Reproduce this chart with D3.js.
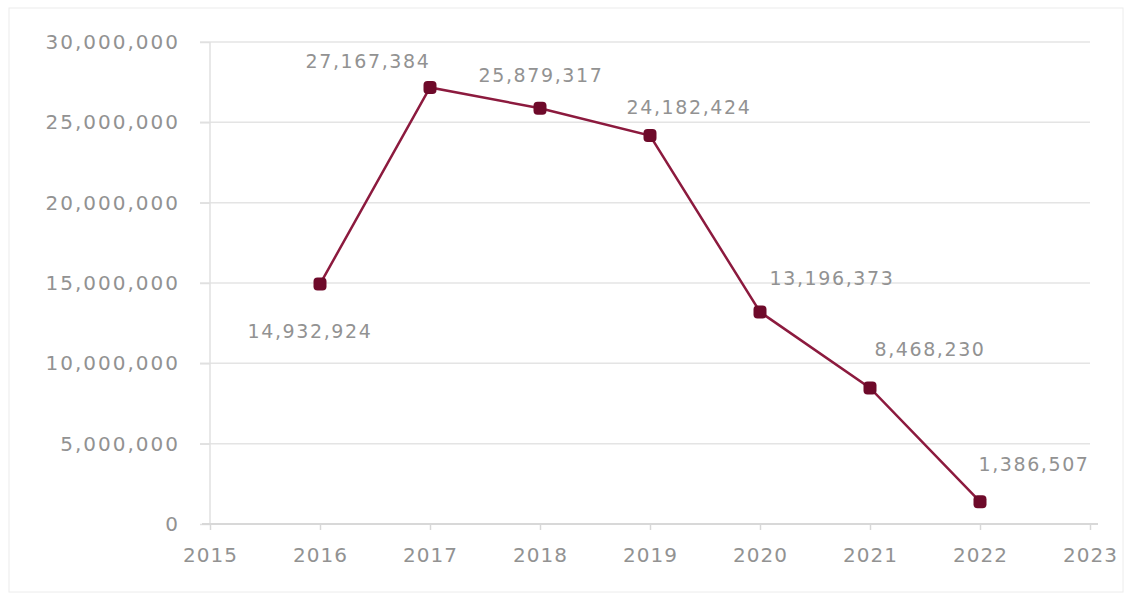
<!DOCTYPE html>
<html><head><meta charset="utf-8">
<script src="https://cdn.jsdelivr.net/npm/d3@7"></script>
<style>body{margin:0;background:#fff;}svg{display:block;font-family:"DejaVu Sans",sans-serif;}</style>
</head><body>
<svg id="c" width="1133" height="600"></svg>
<script>
const years = [2016, 2017, 2018, 2019, 2020, 2021, 2022];
const values = [14932924, 27167384, 25879317, 24182424, 13196373, 8468230, 1386507];
const yTicks = [0, 5000000, 10000000, 15000000, 20000000, 25000000, 30000000];
const xTicks = [2015, 2016, 2017, 2018, 2019, 2020, 2021, 2022, 2023];
// label offsets [dx, dy] relative to point
const labelOffsets = [[-10, 54], [-62, -20], [1, -26], [39, -21], [72, -27], [60, -32], [54, -31]];

const svg = d3.select("#c");
svg.append("rect").attr("x", 9).attr("y", 8).attr("width", 1114).attr("height", 584)
  .attr("fill", "none").attr("stroke", "#ececec");

const x = d3.scaleLinear().domain([2015, 2023]).range([210, 1090]);
const y = d3.scaleLinear().domain([0, 30000000]).range([524, 42]);
const fmt = d3.format(",");
const txtStyle = (sel, size, ls) => sel.attr("fill", "#929292").style("font-family", "'DejaVu Sans'")
  .style("font-size", size + "px").style("letter-spacing", ls + "px");

// gridlines
svg.append("g").selectAll("line").data(yTicks.filter(d => d > 0)).join("line")
  .attr("x1", 200).attr("x2", 1090).attr("y1", d => y(d)).attr("y2", d => y(d))
  .attr("stroke", "#e4e4e4").attr("stroke-width", 1.5);

// y axis
const ya = svg.append("g").attr("transform", "translate(210,0)")
  .call(d3.axisLeft(y).tickValues(yTicks).tickFormat(fmt).tickSize(10).tickPadding(20));
ya.select(".domain").attr("stroke", "#e0e0e0").attr("stroke-width", 1.5).attr("d", "M0,42V524");
ya.selectAll(".tick line").attr("stroke", "#e0e0e0").attr("stroke-width", 1.5);
ya.selectAll("text").call(txtStyle, 20, 2);

// x axis
const xa = svg.append("g").attr("transform", "translate(0,524)")
  .call(d3.axisBottom(x).tickValues(xTicks).tickFormat(d3.format("d")).tickSize(6).tickPadding(18));
xa.select(".domain").attr("stroke", "#d8d8d8").attr("stroke-width", 2).attr("d", "M202,0H1098");
xa.selectAll(".tick line").attr("stroke", "#d8d8d8").attr("stroke-width", 1.5);
xa.selectAll("text").call(txtStyle, 20, 1);

const data = years.map((yr, i) => ({yr, v: values[i], off: labelOffsets[i]}));

svg.append("path").datum(data)
  .attr("d", d3.line().x(d => x(d.yr)).y(d => y(d.v)))
  .attr("fill", "none").attr("stroke", "#8c1a3e").attr("stroke-width", 2.5);

svg.append("g").selectAll("rect").data(data).join("rect")
  .attr("x", d => x(d.yr) - 6.5).attr("y", d => y(d.v) - 6.5)
  .attr("width", 13).attr("height", 13).attr("rx", 4)
  .attr("fill", "#6e0a2a");

svg.append("g").selectAll("text").data(data).join("text")
  .attr("x", d => x(d.yr) + d.off[0]).attr("y", d => y(d.v) + d.off[1])
  .attr("text-anchor", "middle").call(txtStyle, 19, 1.6)
  .text(d => fmt(d.v));
</script>
</body></html>
